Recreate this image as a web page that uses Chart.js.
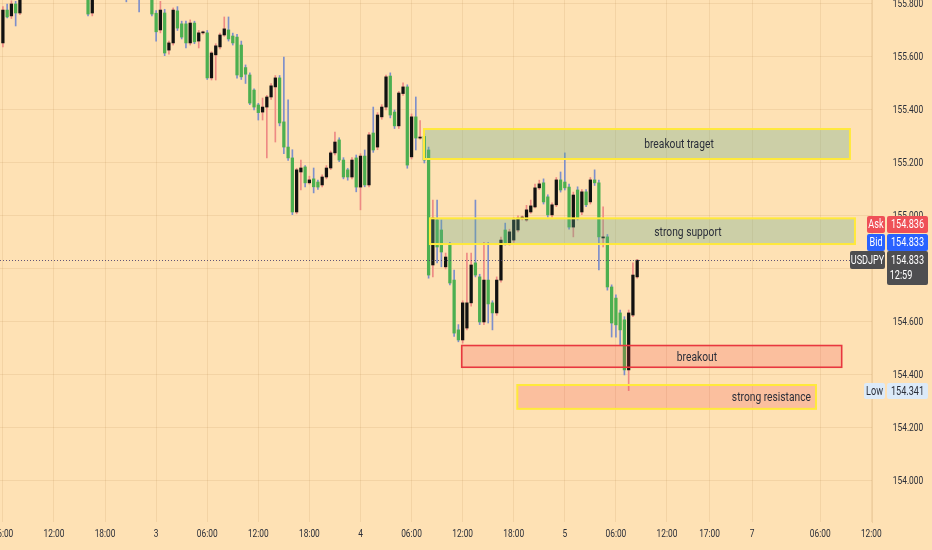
<!DOCTYPE html>
<html>
<head>
<meta charset="utf-8">
<title>USDJPY 30m</title>
<script src="https://cdn.jsdelivr.net/npm/chart.js@4.4.1/dist/chart.umd.min.js"></script>
<style>
    html, body { margin: 0; padding: 0; background: #FEE1B4; }
    #wrap { width: 932px; height: 550px; }
</style>
</head>
<body>
<div id="wrap"><canvas id="usdjpyChart" width="932" height="550"></canvas></div>
<script>
// 30 minute candles, first one is day 2 06:00 (x axis counts trading hours from day 2 00:00)
const firstBarHour = 6;
const barHours = 0.5;

const opens = [
    155.653, 155.777, 155.755, 155.800, 155.766, 155.830, 155.862, 155.890, 155.872, 155.905,
    155.930, 155.912, 155.895, 155.918, 155.940, 155.925, 155.900, 155.880, 155.865, 155.848,
    155.842, 155.766, 155.838, 155.860, 155.885, 155.870, 155.892, 155.878, 155.860, 155.845,
    155.830, 155.850, 155.838, 155.825, 155.842, 155.830, 155.765, 155.702, 155.766, 155.626,
    155.653, 155.774, 155.725, 155.725, 155.653, 155.728, 155.660, 155.691, 155.691, 155.521,
    155.608, 155.638, 155.683, 155.702, 155.679, 155.675, 155.645, 155.560, 155.532, 155.475,
    155.419, 155.392, 155.411, 155.449, 155.487, 155.521, 155.355, 155.260, 155.219, 155.015,
    155.166, 155.185, 155.125, 155.140, 155.128, 155.117, 155.147, 155.181, 155.238, 155.287,
    155.211, 155.174, 155.147, 155.219, 155.109, 155.226, 155.117, 155.313, 155.260, 155.374,
    155.411, 155.528, 155.392, 155.340, 155.462, 155.487, 155.223, 155.374, 155.294, 155.300,
    155.249, 154.815, 154.985, 154.947, 154.808, 154.891, 154.758, 154.570, 154.532, 154.577,
    154.672, 154.823, 154.770, 154.600, 154.758, 154.672, 154.634, 154.758, 154.947, 154.898,
    154.909, 154.947, 154.992, 154.985, 155.015, 155.034, 155.106, 155.125, 155.072, 155.004,
    155.042, 155.136, 155.128, 155.109, 154.958, 155.098, 155.015, 155.091, 155.053, 155.136,
    155.125, 154.917, 154.921, 154.732, 154.690, 154.634, 154.608, 154.419, 154.626, 154.770
];
const highs = [
    155.790, 155.800, 155.812, 155.810, 155.850, 155.875, 155.905, 155.900, 155.918, 155.942,
    155.948, 155.925, 155.930, 155.955, 155.960, 155.935, 155.912, 155.895, 155.878, 155.860,
    155.852, 155.850, 155.870, 155.898, 155.895, 155.905, 155.902, 155.885, 155.870, 155.855,
    155.862, 155.860, 155.848, 155.852, 155.855, 155.840, 155.775, 155.810, 155.780, 155.660,
    155.785, 155.790, 155.735, 155.735, 155.740, 155.735, 155.700, 155.698, 155.700, 155.620,
    155.650, 155.690, 155.751, 155.751, 155.690, 155.685, 155.660, 155.570, 155.540, 155.480,
    155.425, 155.445, 155.455, 155.500, 155.530, 155.530, 155.600, 155.438, 155.250, 155.180,
    155.211, 155.190, 155.150, 155.181, 155.135, 155.155, 155.190, 155.245, 155.317, 155.295,
    155.220, 155.180, 155.220, 155.230, 155.235, 155.249, 155.315, 155.411, 155.390, 155.420,
    155.532, 155.540, 155.400, 155.470, 155.502, 155.495, 155.385, 155.449, 155.360, 155.310,
    155.260, 155.060, 155.060, 154.985, 154.860, 154.900, 154.796, 154.590, 154.680, 154.860,
    154.860, 155.060, 154.780, 154.900, 154.900, 154.680, 154.770, 154.920, 154.973, 154.950,
    154.995, 155.000, 155.000, 155.040, 155.060, 155.120, 155.135, 155.140, 155.080, 155.050,
    155.145, 155.166, 155.238, 155.120, 155.090, 155.110, 155.100, 155.100, 155.145, 155.174,
    155.135, 155.034, 154.930, 154.740, 154.702, 154.645, 154.620, 154.645, 154.823, 154.836
];
const lows = [
    155.638, 155.747, 155.745, 155.717, 155.760, 155.825, 155.850, 155.860, 155.865, 155.895,
    155.900, 155.880, 155.885, 155.905, 155.910, 155.888, 155.862, 155.845, 155.832, 155.828,
    155.755, 155.755, 155.828, 155.850, 155.858, 155.862, 155.866, 155.848, 155.835, 155.808,
    155.822, 155.826, 155.770, 155.818, 155.820, 155.755, 155.660, 155.691, 155.605, 155.611,
    155.645, 155.700, 155.668, 155.634, 155.645, 155.650, 155.634, 155.686, 155.515, 155.513,
    155.513, 155.630, 155.678, 155.660, 155.645, 155.520, 155.515, 155.500, 155.420, 155.400,
    155.362, 155.362, 155.219, 155.440, 155.279, 155.340, 155.235, 155.210, 155.005, 155.008,
    155.098, 155.110, 155.120, 155.087, 155.100, 155.110, 155.140, 155.175, 155.230, 155.205,
    155.140, 155.135, 155.140, 155.091, 155.023, 155.110, 155.110, 155.240, 155.250, 155.365,
    155.400, 155.370, 155.330, 155.330, 155.455, 155.180, 155.215, 155.249, 155.290, 155.200,
    154.765, 154.770, 154.823, 154.808, 154.800, 154.740, 154.545, 154.525, 154.520, 154.570,
    154.660, 154.770, 154.590, 154.590, 154.596, 154.570, 154.625, 154.750, 154.890, 154.890,
    154.900, 154.940, 154.985, 154.980, 155.010, 155.030, 155.100, 155.045, 154.995, 154.995,
    155.035, 155.090, 155.098, 154.950, 154.921, 154.985, 155.005, 155.035, 155.045, 155.115,
    154.796, 154.883, 154.720, 154.543, 154.543, 154.513, 154.400, 154.341, 154.620, 154.765
];
const closes = [
    155.777, 155.751, 155.800, 155.766, 155.830, 155.862, 155.890, 155.872, 155.905, 155.930,
    155.912, 155.895, 155.918, 155.940, 155.925, 155.900, 155.880, 155.865, 155.848, 155.842,
    155.762, 155.838, 155.860, 155.885, 155.870, 155.892, 155.878, 155.860, 155.845, 155.830,
    155.850, 155.838, 155.825, 155.842, 155.830, 155.762, 155.695, 155.777, 155.615, 155.653,
    155.777, 155.709, 155.675, 155.653, 155.728, 155.657, 155.691, 155.692, 155.521, 155.615,
    155.642, 155.683, 155.706, 155.668, 155.653, 155.532, 155.525, 155.535, 155.426, 155.411,
    155.390, 155.411, 155.449, 155.491, 155.521, 155.351, 155.260, 155.219, 155.015, 155.174,
    155.181, 155.125, 155.136, 155.110, 155.109, 155.147, 155.181, 155.238, 155.279, 155.211,
    155.147, 155.147, 155.211, 155.109, 155.226, 155.117, 155.306, 155.249, 155.381, 155.411,
    155.525, 155.381, 155.340, 155.464, 155.487, 155.192, 155.374, 155.294, 155.296, 155.211,
    154.777, 154.992, 154.883, 154.864, 154.845, 154.747, 154.558, 154.532, 154.672, 154.672,
    154.815, 154.777, 154.600, 154.758, 154.668, 154.634, 154.758, 154.909, 154.898, 154.940,
    154.985, 154.992, 154.994, 155.023, 155.038, 155.106, 155.121, 155.053, 155.004, 155.042,
    155.136, 155.098, 155.106, 154.958, 155.079, 154.992, 155.091, 155.042, 155.136, 155.125,
    154.921, 154.921, 154.732, 154.596, 154.589, 154.570, 154.419, 154.634, 154.777, 154.833
];

// time axis: trading hours from day 2 00:00, weekend gap removed after Friday 17:00
const tickHours = [6, 12, 18, 24, 30, 36, 42, 48, 54, 60, 66, 72, 78, 84, 89, 94, 102, 108];
const tickLabels = ['06:00', '12:00', '18:00', '3', '06:00', '12:00', '18:00', '4',
    '06:00', '12:00', '18:00', '5', '06:00', '12:00', '17:00', '7', '06:00', '12:00'];
const priceTicks = [154.0, 154.2, 154.4, 154.6, 154.8, 155.0, 155.2, 155.4, 155.6, 155.8];

// drawn zones (time start/end in axis hours, price top/bottom)
const zoneLabels = ['breakout traget', 'strong support', 'breakout', 'strong resistance'];
const zoneStart = [55.46, 56.16, 59.89, 66.42];
const zoneEnd = [105.49, 106.08, 104.52, 101.5];
const zoneTop = [155.328, 154.991, 154.511, 154.362];
const zoneBottom = [155.215, 154.894, 154.429, 154.272];
const zoneTextAt = [85.41, 86.46, 87.52, 96.27];

const symbol = 'USDJPY';
const askPrice = 154.836;
const bidPrice = 154.833;
const lastPrice = 154.833;
const sessionLow = 154.341;
const countdown = '12:59';

const xMin = 5.66, xMax = 108.08;
const yMin = 153.845, yMax = 155.815;

const BG = '#FEE1B4';
const GRID = 'rgba(170, 120, 60, 0.13)';
const TEXT = '#2a2e39';
const SQUEEZE = 0.76;

function squeezedText(ctx, text, x, y, size, color, align) {
    ctx.save();
    ctx.translate(x, y);
    ctx.scale(SQUEEZE, 1);
    ctx.font = size + 'px Roboto, "Liberation Sans", sans-serif';
    ctx.fillStyle = color;
    ctx.textAlign = align || 'center';
    ctx.textBaseline = 'middle';
    ctx.fillText(text, 0, 0);
    ctx.restore();
}

const candleX = opens.map((o, i) => firstBarHour + i * barHours);
const isUp = opens.map((o, i) => closes[i] >= o);

const wickData = candleX.map((x, i) => ({ x, y: [lows[i], highs[i]] }));
const bodyData = candleX.map((x, i) => ({ x, y: [Math.min(opens[i], closes[i]), Math.max(opens[i], closes[i])] }));

const backgroundPlugin = {
    id: 'background',
    beforeDraw(chart) {
        const { ctx, width, height } = chart;
        ctx.save();
        ctx.fillStyle = BG;
        ctx.fillRect(0, 0, width, height);
        ctx.restore();
    }
};

const zonesPlugin = {
    id: 'zones',
    afterDatasetsDraw(chart) {
        const { ctx, chartArea } = chart;
        const xs = chart.scales.x, ys = chart.scales.y;
        const fills = ['rgba(100, 170, 140, 0.32)', 'rgba(100, 170, 140, 0.32)', 'rgba(242, 54, 69, 0.2)', 'rgba(242, 54, 69, 0.2)'];
        const borders = ['#FFE93B', '#FFE93B', '#E8373F', '#FFE93B'];
        ctx.save();
        ctx.beginPath();
        ctx.rect(chartArea.left, chartArea.top, chartArea.right - chartArea.left, chartArea.bottom - chartArea.top);
        ctx.clip();

        // last price dotted line
        const yp = Math.round(ys.getPixelForValue(lastPrice)) + 0.5;
        ctx.strokeStyle = 'rgba(70, 60, 110, 0.85)';
        ctx.lineWidth = 1;
        ctx.setLineDash([1, 2]);
        ctx.beginPath();
        ctx.moveTo(chartArea.left, yp);
        ctx.lineTo(chartArea.right, yp);
        ctx.stroke();
        ctx.setLineDash([]);

        zoneLabels.forEach((label, i) => {
            const x1 = xs.getPixelForValue(zoneStart[i]);
            const x2 = xs.getPixelForValue(zoneEnd[i]);
            const y1 = ys.getPixelForValue(zoneTop[i]);
            const y2 = ys.getPixelForValue(zoneBottom[i]);
            ctx.fillStyle = fills[i];
            ctx.fillRect(x1, y1, x2 - x1, y2 - y1);
            ctx.strokeStyle = borders[i];
            ctx.lineWidth = i === 2 ? 1.6 : 2;
            ctx.strokeRect(x1, y1, x2 - x1, y2 - y1);
            squeezedText(ctx, label, xs.getPixelForValue(zoneTextAt[i]), (y1 + y2) / 2 + 1, 13.5, TEXT);
        });
        ctx.restore();
    }
};

const axisLabelsPlugin = {
    id: 'axisLabels',
    afterDraw(chart) {
        const { ctx, chartArea } = chart;
        const xs = chart.scales.x, ys = chart.scales.y;
        const right = chartArea.right;

        tickHours.forEach((h, i) => {
            squeezedText(ctx, tickLabels[i], xs.getPixelForValue(h), chartArea.bottom + 12, 11, TEXT);
        });
        priceTicks.forEach(p => {
            squeezedText(ctx, p.toFixed(3), right + 36, ys.getPixelForValue(p), 11, TEXT);
        });

        const tag = (x, y, w, h, fill, text, color) => {
            ctx.fillStyle = fill;
            ctx.beginPath();
            ctx.roundRect(x, y, w, h, 2);
            ctx.fill();
            if (text) squeezedText(ctx, text, x + w / 2, y + h / 2 + 0.5, 12, color);
        };

        const yl = Math.round(ys.getPixelForValue(lastPrice));
        // ask / bid / symbol tags stack upward from the last price
        tag(right - 5, yl - 44, 18, 17, '#EF5057', 'Ask', '#fff');
        tag(right + 15, yl - 44, 41, 17, '#EF5057', askPrice.toFixed(3), '#fff');
        tag(right - 5, yl - 26, 18, 17, '#2962FF', 'Bid', '#fff');
        tag(right + 15, yl - 26, 41, 17, '#2962FF', bidPrice.toFixed(3), '#fff');
        tag(right - 22, yl - 9, 35, 18, '#4e4e50', symbol, '#fff');
        tag(right + 15, yl - 9, 41, 34, '#4e4e50', null);
        squeezedText(ctx, lastPrice.toFixed(3), right + 35.5, yl + 0.5, 12, '#fff');
        squeezedText(ctx, countdown, right + 29, yl + 16, 12, '#fff');

        const ylow = Math.round(ys.getPixelForValue(sessionLow));
        tag(right - 8, ylow - 8, 21, 16, '#DCEAF8', 'Low', TEXT);
        tag(right + 15, ylow - 8, 41, 16, '#DCEAF8', sessionLow.toFixed(3), TEXT);
    }
};

const ctx = document.getElementById('usdjpyChart');

new Chart(ctx, {
    type: 'bar',
    data: {
        datasets: [{
            label: 'wick',
            data: wickData,
            backgroundColor: isUp.map(u => u ? '#EE8A84' : '#7D8FCB'),
            barThickness: 1,
            grouped: false,
            order: 2
        }, {
            label: 'body',
            data: bodyData,
            backgroundColor: isUp.map(u => u ? '#111111' : '#4CAF50'),
            barThickness: 2.6,
            minBarLength: 1,
            grouped: false,
            order: 1
        }]
    },
    options: {
        responsive: false,
        animation: false,
        layout: { padding: { right: 60, bottom: 28 } },
        plugins: {
            legend: { display: false },
            tooltip: { enabled: false }
        },
        scales: {
            x: {
                type: 'linear',
                min: xMin,
                max: xMax,
                offset: false,
                grid: { color: GRID, drawTicks: false, offset: false },
                border: { display: false },
                ticks: { display: false },
                afterBuildTicks: scale => { scale.ticks = tickHours.map(v => ({ value: v })); }
            },
            y: {
                position: 'right',
                min: yMin,
                max: yMax,
                beginAtZero: false,
                grid: { color: GRID, drawTicks: false },
                border: { display: true, color: 'rgba(170, 120, 60, 0.18)' },
                ticks: { display: false },
                afterBuildTicks: scale => { scale.ticks = priceTicks.map(v => ({ value: v })); }
            }
        }
    },
    plugins: [backgroundPlugin, zonesPlugin, axisLabelsPlugin]
});
</script>
</body>
</html>
